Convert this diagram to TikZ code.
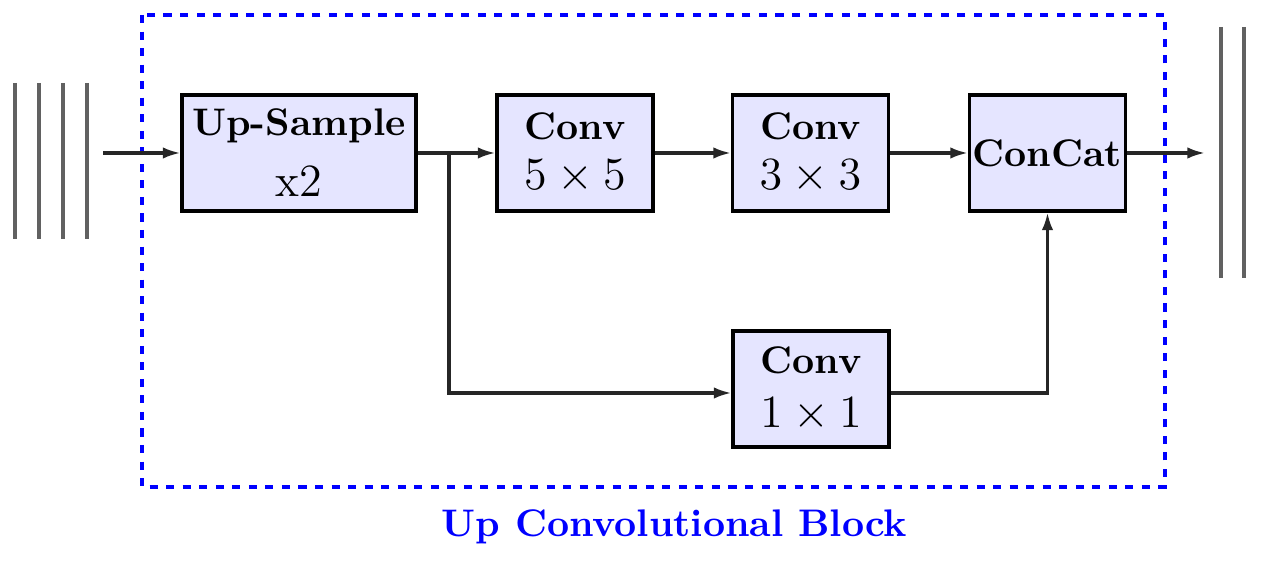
\documentclass[tikz,border=0pt]{standalone}
\usetikzlibrary{arrows.meta,calc}
\begin{document}
\begin{tikzpicture}[x=0.26pt,y=-0.26pt,
  blk/.style={draw=black, thick, fill=blue!10, inner sep=0pt, align=center,
    minimum width=40.56pt, minimum height=30.16pt},
  ln/.style={thick, draw=black!85},
  arr/.style={thick, draw=black!85, -{Latex[length=4.6pt,width=3pt]}},
  bar/.style={draw=black!62, line width=1.1pt},
  frame/.style={draw=blue, thick, dash pattern=on 2.1pt off 2.2pt}]
\useasboundingbox (0,0) rectangle (1261,569);
% feature-map bars
\foreach \x in {15,39,63,87} \draw[bar] (\x,83) -- (\x,239);
\foreach \x in {1221,1244} \draw[bar] (\x,27) -- (\x,278);
% dashed frame
\draw[frame] (142,15) rectangle (1165,487);
\node[text=blue, font=\bfseries, anchor=base] (title) at (674.5,537) {Up Convolutional Block};
% blocks
\node[blk, minimum width=60.84pt] (up) at (299,153) {\textbf{Up-Sample}\\[3.9pt]{\large x2}};
\node[blk] (c5) at (575,153) {\textbf{Conv}\\[0.8pt]{\large $5\times5$}};
\node[blk] (c3) at (810.5,153) {\textbf{Conv}\\[0.8pt]{\large $3\times3$}};
\node[blk] (cc) at (1047.5,153) {\textbf{ConCat}};
\node[blk] (c1) at (811,389) {\textbf{Conv}\\[2pt]{\large $1\times1$}};
% connectors
\coordinate (in) at (103,153);
\coordinate (br) at (449,153);
\coordinate (out) at (1205,153);
\draw[arr] (in) -- (up.west);
\draw[ln] (up.east) -- (br);
\draw[arr] (br) -- (c5.west);
\draw[arr] (br) |- ($(c1.west)+(0,4)$);
\draw[arr] (c5.east) -- (c3.west);
\draw[arr] (c3.east) -- (cc.west);
\draw[arr] ($(c1.east)+(0,4)$) -| (cc.south);
\draw[arr] (cc.east) -- (out);
\end{tikzpicture}
\end{document}
